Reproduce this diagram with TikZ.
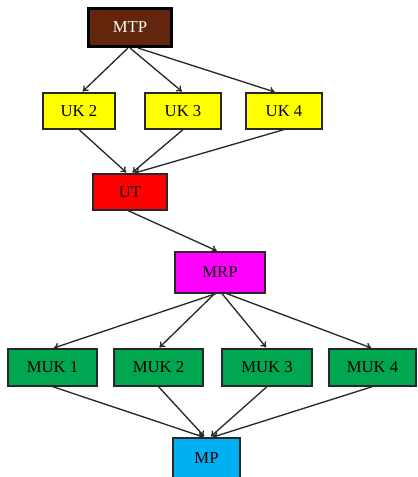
\documentclass[tikz,border=0pt]{standalone}
\usepackage{fontspec}
\setmainfont{Liberation Serif}
\usetikzlibrary{arrows.meta}

\definecolor{mtpbrown}{RGB}{99,37,11}
\definecolor{ukyellow}{RGB}{255,255,0}
\definecolor{utred}{RGB}{255,0,0}
\definecolor{mrpmagenta}{RGB}{255,0,255}
\definecolor{mukgreen}{RGB}{0,166,80}
\definecolor{mpblue}{RGB}{0,176,240}
\definecolor{edgegray}{RGB}{40,40,40}

\tikzset{
  blok/.style={draw=edgegray, line width=0.9pt, inner sep=0pt, minimum height=27pt,
    font=\fontsize{12.5}{14}\selectfont},
  panah/.style={-{To[length=4pt,width=5.5pt]}, draw=edgegray, line width=1pt, shorten >=1pt},
}

\begin{document}
\begin{tikzpicture}[x=0.75pt,y=0.75pt,yscale=-1,xscale=1]
\useasboundingbox (0,0) rectangle (417,477);

% top block
\node [blok, draw=black, line width=2.25pt, fill=mtpbrown, text=white, minimum width=62.25pt, minimum height=28.5pt] (mtp) at (130,27.5) {MTP};

% UK blocks
\node [blok, fill=ukyellow, minimum width=54pt] (uk2) at (79,111) {UK 2};
\node [blok, fill=ukyellow, minimum width=57pt] (uk3) at (183,111) {UK 3};
\node [blok, fill=ukyellow, minimum width=57pt] (uk4) at (284,111) {UK 4};

\node [blok, fill=utred, minimum width=55.5pt] (ut) at (130,192) {UT};

\node [blok, fill=mrpmagenta, minimum width=67.5pt, minimum height=30.75pt] (mrp) at (220,272.5) {MRP};

% MUK blocks
\node [blok, fill=mukgreen, minimum width=66.75pt, minimum height=27.75pt] (muk1) at (52.5,367.5) {MUK 1};
\node [blok, fill=mukgreen, minimum width=66.75pt, minimum height=27.75pt] (muk2) at (158.5,367.5) {MUK 2};
\node [blok, fill=mukgreen, minimum width=67.5pt, minimum height=27.75pt] (muk3) at (267,367.5) {MUK 3};
\node [blok, fill=mukgreen, minimum width=65.25pt, minimum height=27.75pt] (muk4) at (372.5,367.5) {MUK 4};

\node [blok, fill=mpblue, minimum width=50.25pt, minimum height=30.75pt] (mp) at (206.5,458.5) {MP};

% arrows
\draw [panah] ([xshift=-1.5pt]mtp.south) -- ([xshift=2pt]uk2.north);
\draw [panah] (mtp.south) -- (uk3.north);
\draw [panah] ([xshift=6pt]mtp.south) -- ([xshift=-6pt]uk4.north);

\draw [panah] (uk2.south) -- ([xshift=-2pt]ut.north);
\draw [panah] (uk3.south) -- ([xshift=1pt]ut.north);
\draw [panah] (uk4.south) -- ([xshift=2.5pt]ut.north);

\draw [panah] ([xshift=-1.5pt]ut.south) -- ([xshift=-1.5pt]mrp.north);

\foreach \k/\s in {1/-3,2/-4,3/1.5,4/5}
  \draw [panah] ([xshift=\s pt]mrp.south) -- (muk\k.north);

\foreach \k/\s in {1/-1.5,2/-1,3/2.5,4/4}
  \draw [panah] (muk\k.south) -- ([xshift=\s pt]mp.north);

\end{tikzpicture}
\end{document}
